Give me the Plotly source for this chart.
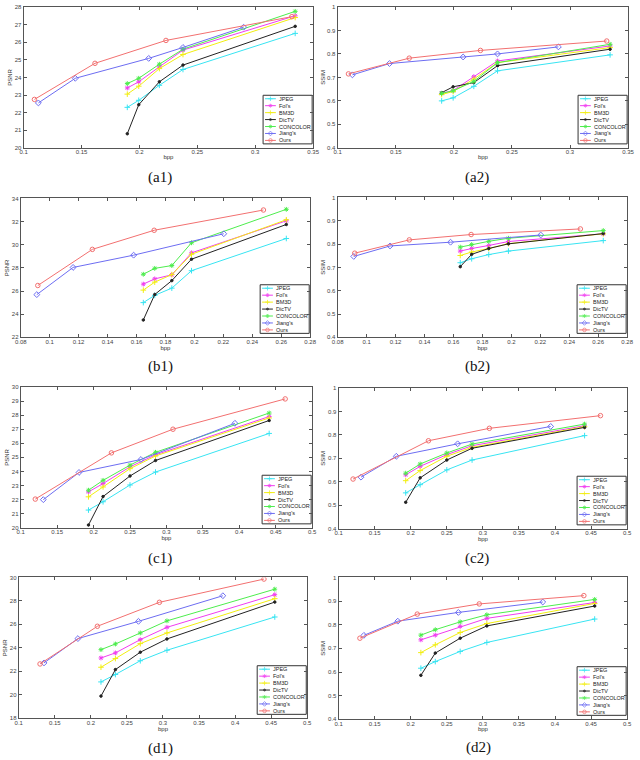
import plotly.graph_objects as go

W, H = 640, 760

names = ["JPEG", "Fol's", "BM3D", "DicTV", "CONCOLOR", "Jiang's", "Ours"]
colors = ["#38e4f2", "#f03cf0", "#f2ee10", "#222222", "#4ded4d", "#6d6df2", "#f27070"]
symbols = ["cross-thin", "asterisk", "cross-thin", "circle", "asterisk", "diamond-open", "circle-open"]
msizes = [4, 4, 4, 2.5, 4, 4.5, 4.5]

# ---------------- panel (a) ----------------
a_x = [0.1895, 0.1994, 0.2172, 0.2376, 0.3345]
a_jiang_x = [0.1127, 0.1446, 0.208, 0.2376, 0.29]
a_ours_x = [0.1093, 0.1616, 0.2229, 0.3316]
a1_jpeg = [22.3, 22.7, 23.55, 24.45, 26.5]
a1_fols = [23.4, 23.75, 24.6, 25.55, 27.5]
a1_bm3d = [23.05, 23.5, 24.5, 25.3, 27.4]
a1_dictv = [20.8, 22.45, 23.75, 24.7, 26.9]
a1_concolor = [23.65, 23.95, 24.75, 25.6, 27.75]
a1_jiang = [22.55, 23.95, 25.08, 25.7, 26.85]
a1_ours = [22.75, 24.8, 26.1, 27.45]
a2_jpeg = [0.6, 0.613, 0.662, 0.728, 0.796]
a2_fols = [0.632, 0.644, 0.703, 0.77, 0.834]
a2_bm3d = [0.627, 0.64, 0.693, 0.763, 0.827]
a2_dictv = [0.635, 0.66, 0.678, 0.75, 0.82]
a2_concolor = [0.632, 0.643, 0.683, 0.763, 0.841]
a2_jiang = [0.711, 0.759, 0.787, 0.8, 0.83]
a2_ours = [0.715, 0.782, 0.815, 0.855]

# ---------------- panel (b) ----------------
b_x = [0.1647, 0.1726, 0.1844, 0.198, 0.2635]
b_jiang_x = [0.0911, 0.1162, 0.158, 0.2203]
b_ours_x = [0.0918, 0.1295, 0.1722, 0.2477]
b1_jpeg = [25.0, 25.63, 26.25, 27.76, 30.54]
b1_fols = [26.6, 27.05, 27.4, 29.3, 32.07]
b1_bm3d = [26.08, 26.77, 27.42, 29.18, 32.16]
b1_dictv = [23.5, 25.7, 26.9, 28.75, 31.75]
b1_concolor = [27.45, 27.96, 28.2, 30.17, 33.06]
b1_jiang = [25.69, 28.04, 29.1, 30.95]
b1_ours = [26.48, 29.6, 31.25, 33.0]
b2_jpeg = [0.72, 0.737, 0.755, 0.77, 0.815]
b2_fols = [0.77, 0.781, 0.794, 0.811, 0.844]
b2_bm3d = [0.751, 0.766, 0.781, 0.802, 0.844]
b2_dictv = [0.703, 0.756, 0.781, 0.801, 0.845]
b2_concolor = [0.787, 0.798, 0.812, 0.825, 0.858]
b2_jiang = [0.747, 0.792, 0.808, 0.839]
b2_ours = [0.761, 0.818, 0.841, 0.865]

# ---------------- panel (c) ----------------
c_x = [0.193, 0.213, 0.25, 0.285, 0.441]
c_jiang_x = [0.131, 0.18, 0.265, 0.394]
c_ours_x = [0.12, 0.2245, 0.309, 0.463]
c1_jpeg = [21.26, 21.85, 23.04, 23.96, 26.7]
c1_fols = [22.55, 23.14, 24.33, 25.18, 27.9]
c1_bm3d = [22.2, 22.9, 24.2, 25.1, 27.8]
c1_dictv = [20.2, 22.22, 23.68, 24.78, 27.62]
c1_concolor = [22.67, 23.37, 24.45, 25.36, 28.15]
c1_jiang = [22.0, 23.93, 24.85, 27.42]
c1_ours = [22.04, 25.32, 27.0, 29.15]
c2_jpeg = [0.553, 0.588, 0.651, 0.693, 0.797]
c2_fols = [0.63, 0.666, 0.716, 0.754, 0.839]
c2_bm3d = [0.605, 0.648, 0.709, 0.747, 0.835]
c2_dictv = [0.513, 0.617, 0.693, 0.743, 0.832]
c2_concolor = [0.637, 0.676, 0.723, 0.761, 0.846]
c2_jiang = [0.62, 0.709, 0.762, 0.836]
c2_ours = [0.612, 0.775, 0.828, 0.882]

# ---------------- panel (d) ----------------
d_x = [0.214, 0.234, 0.2685, 0.3055, 0.455]
d_jiang_x = [0.135, 0.182, 0.266, 0.383]
d_ours_x = [0.1295, 0.209, 0.295, 0.44]
d1_jpeg = [21.1, 21.73, 22.9, 23.8, 26.63]
d1_fols = [23.14, 23.57, 24.7, 25.75, 28.53]
d1_bm3d = [22.35, 23.09, 24.36, 25.27, 28.19]
d1_dictv = [19.89, 22.15, 23.63, 24.76, 27.9]
d1_concolor = [23.85, 24.33, 25.27, 26.3, 29.0]
d1_jiang = [22.72, 24.79, 26.26, 28.44]
d1_ours = [22.63, 25.84, 27.88, 29.86]
d2_jpeg = [0.616, 0.644, 0.687, 0.725, 0.824]
d2_fols = [0.736, 0.756, 0.793, 0.827, 0.894]
d2_bm3d = [0.682, 0.715, 0.767, 0.805, 0.89]
d2_dictv = [0.586, 0.68, 0.743, 0.795, 0.879]
d2_concolor = [0.756, 0.779, 0.812, 0.842, 0.907]
d2_jiang = [0.755, 0.815, 0.852, 0.896]
d2_ours = [0.743, 0.845, 0.888, 0.923]

# ---------------- tick labels ----------------
x_ticks_a = [0.1, 0.15, 0.2, 0.25, 0.3, 0.35]
x_labels_a = ["0.1", "0.15", "0.2", "0.25", "0.3", "0.35"]
x_ticks_b = [0.08, 0.1, 0.12, 0.14, 0.16, 0.18, 0.2, 0.22, 0.24, 0.26, 0.28]
x_labels_b = ["0.08", "0.1", "0.12", "0.14", "0.16", "0.18", "0.2", "0.22", "0.24", "0.26", "0.28"]
x_ticks_cd = [0.1, 0.15, 0.2, 0.25, 0.3, 0.35, 0.4, 0.45, 0.5]
x_labels_cd = ["0.1", "0.15", "0.2", "0.25", "0.3", "0.35", "0.4", "0.45", "0.5"]
y_ticks_a1 = [20, 21, 22, 23, 24, 25, 26, 27, 28]
y_ticks_b1 = [22, 24, 26, 28, 30, 32, 34]
y_ticks_c1 = [20, 21, 22, 23, 24, 25, 26, 27, 28, 29, 30]
y_ticks_d1 = [18, 20, 22, 24, 26, 28, 30]
y_ticks_ssim = [0.4, 0.5, 0.6, 0.7, 0.8, 0.9, 1.0]
y_labels_ssim = ["0.4", "0.5", "0.6", "0.7", "0.8", "0.9", "1"]

captions = ["(a1)", "(a2)", "(b1)", "(b2)", "(c1)", "(c2)", "(d1)", "(d2)"]

panels = [
    dict(box=(18, 4, 313, 146), cap=(157, 176), xt=(x_ticks_a, x_labels_a), yt=(y_ticks_a1, [str(v) for v in y_ticks_a1]), yl="PSNR",
         xs=[a_x] * 5 + [a_jiang_x, a_ours_x], ys=[a1_jpeg, a1_fols, a1_bm3d, a1_dictv, a1_concolor, a1_jiang, a1_ours]),
    dict(box=(338, 4, 634, 146), cap=(480, 176), xt=(x_ticks_a, x_labels_a), yt=(y_ticks_ssim, y_labels_ssim), yl="SSIM",
         xs=[a_x] * 5 + [a_jiang_x, a_ours_x], ys=[a2_jpeg, a2_fols, a2_bm3d, a2_dictv, a2_concolor, a2_jiang, a2_ours]),
    dict(box=(15, 197, 310, 337), cap=(157, 366), xt=(x_ticks_b, x_labels_b), yt=(y_ticks_b1, [str(v) for v in y_ticks_b1]), yl="PSNR",
         xs=[b_x] * 5 + [b_jiang_x, b_ours_x], ys=[b1_jpeg, b1_fols, b1_bm3d, b1_dictv, b1_concolor, b1_jiang, b1_ours]),
    dict(box=(338, 196, 633, 337), cap=(480, 366), xt=(x_ticks_b, x_labels_b), yt=(y_ticks_ssim, y_labels_ssim), yl="SSIM",
         xs=[b_x] * 5 + [b_jiang_x, b_ours_x], ys=[b2_jpeg, b2_fols, b2_bm3d, b2_dictv, b2_concolor, b2_jiang, b2_ours]),
    dict(box=(15, 387, 312, 529), cap=(157, 560), xt=(x_ticks_cd, x_labels_cd), yt=(y_ticks_c1, [str(v) for v in y_ticks_c1]), yl="PSNR",
         xs=[c_x] * 5 + [c_jiang_x, c_ours_x], ys=[c1_jpeg, c1_fols, c1_bm3d, c1_dictv, c1_concolor, c1_jiang, c1_ours]),
    dict(box=(339, 388, 633, 530), cap=(480, 560), xt=(x_ticks_cd, x_labels_cd), yt=(y_ticks_ssim, y_labels_ssim), yl="SSIM",
         xs=[c_x] * 5 + [c_jiang_x, c_ours_x], ys=[c2_jpeg, c2_fols, c2_bm3d, c2_dictv, c2_concolor, c2_jiang, c2_ours]),
    dict(box=(13, 579, 307, 721), cap=(157, 751), xt=(x_ticks_cd, x_labels_cd), yt=(y_ticks_d1, [str(v) for v in y_ticks_d1]), yl="PSNR",
         xs=[d_x] * 5 + [d_jiang_x, d_ours_x], ys=[d1_jpeg, d1_fols, d1_bm3d, d1_dictv, d1_concolor, d1_jiang, d1_ours]),
    dict(box=(339, 579, 633, 722), cap=(482, 750), xt=(x_ticks_cd, x_labels_cd), yt=(y_ticks_ssim, y_labels_ssim), yl="SSIM",
         xs=[d_x] * 5 + [d_jiang_x, d_ours_x], ys=[d2_jpeg, d2_fols, d2_bm3d, d2_dictv, d2_concolor, d2_jiang, d2_ours]),
]

fig = go.Figure()
layout = dict(width=W, height=H, margin=dict(l=0, r=0, t=0, b=0),
              paper_bgcolor="white", plot_bgcolor="rgba(0,0,0,0)", showlegend=False,
              font=dict(family="Liberation Sans, Arial, sans-serif", size=6, color="#333"))
annotations = []
shapes = []

tickfont = dict(size=6, color="#444", family="Liberation Sans, Arial, sans-serif")

for i, p in enumerate(panels):
    k = "" if i == 0 else str(i + 1)
    L, T, R, B = p["box"]
    xt, xl = p["xt"]
    yt, yl = p["yt"]
    axis_common = dict(showgrid=False, zeroline=False, showline=True, linecolor="#555", linewidth=1,
                       mirror="ticks", ticks="inside", ticklen=3, tickcolor="#555", tickfont=tickfont)
    layout["xaxis" + k] = dict(domain=[L / W, R / W], anchor="y" + k, range=[xt[0], xt[-1]],
                               tickvals=xt, ticktext=xl, ticklabelstandoff=-2,
                               title=dict(text="bpp", font=dict(size=6, color="#333"), standoff=0), **axis_common)
    layout["yaxis" + k] = dict(domain=[1 - B / H, 1 - T / H], anchor="x" + k, range=[yt[0], yt[-1]],
                               tickvals=yt, ticktext=yl, ticklabelstandoff=0,
                               title=dict(text=p["yl"], font=dict(size=6, color="#333"), standoff=1), **axis_common)
    for j in range(7):
        fig.add_trace(go.Scatter(x=p["xs"][j], y=p["ys"][j], mode="lines+markers", name=names[j],
                                 xaxis="x" + k, yaxis="y" + k,
                                 line=dict(color=colors[j], width=1),
                                 marker=dict(symbol=symbols[j], size=msizes[j], color=colors[j],
                                             line=dict(color=colors[j], width=1))))
    # caption
    annotations.append(dict(x=p["cap"][0] / W, y=1 - p["cap"][1] / H, xref="paper", yref="paper",
                            text=captions[i], showarrow=False, xanchor="center", yanchor="middle",
                            font=dict(family="Liberation Serif, Times New Roman, serif", size=15, color="#111")))
    # legend box (manual, compact like MATLAB)
    lx0, lx1 = R - 51, R - 1
    ly0, ly1 = B - 53, B - 4
    shapes.append(dict(type="rect", xref="paper", yref="paper", x0=lx0 / W, x1=lx1 / W,
                       y0=1 - ly1 / H, y1=1 - ly0 / H, line=dict(color="#333", width=1),
                       fillcolor="white", layer="below"))
    for j in range(7):
        yy = ly0 + 3.5 + 7 * j
        shapes.append(dict(type="line", xref="paper", yref="paper", x0=(lx0 + 2) / W, x1=(lx0 + 13) / W,
                           y0=1 - yy / H, y1=1 - yy / H, line=dict(color=colors[j], width=1), layer="above"))
        annotations.append(dict(x=(lx0 + 14) / W, y=1 - yy / H, xref="paper", yref="paper",
                                text=names[j], showarrow=False, xanchor="left", yanchor="middle",
                                font=dict(size=5.5, color="#222")))

# legend sample markers on an overlay axis spanning the page (pixel units)
mk_x, mk_y, mk_sym, mk_col, mk_size = [], [], [], [], []
for p in panels:
    L, T, R, B = p["box"]
    lx0 = R - 51
    ly0 = B - 53
    for j in range(7):
        mk_x.append(lx0 + 7.5)
        mk_y.append(ly0 + 3.5 + 7 * j)
        mk_sym.append(symbols[j])
        mk_col.append(colors[j])
        mk_size.append(msizes[j] * 0.8)
fig.add_trace(go.Scatter(x=mk_x, y=mk_y, mode="markers", xaxis="x9", yaxis="y9", hoverinfo="skip",
                         marker=dict(symbol=mk_sym, color=mk_col, size=mk_size, line=dict(color=mk_col, width=1))))
layout["xaxis9"] = dict(domain=[0, 1], range=[0, W], visible=False, fixedrange=True, anchor="y9")
layout["yaxis9"] = dict(domain=[0, 1], range=[H, 0], visible=False, fixedrange=True, anchor="x9")

layout["annotations"] = annotations
layout["shapes"] = shapes
fig.update_layout(**layout)
fig.write_html("out.html", config={"displayModeBar": False},
               post_script="document.body.style.margin='0';document.body.style.overflow='hidden';")
